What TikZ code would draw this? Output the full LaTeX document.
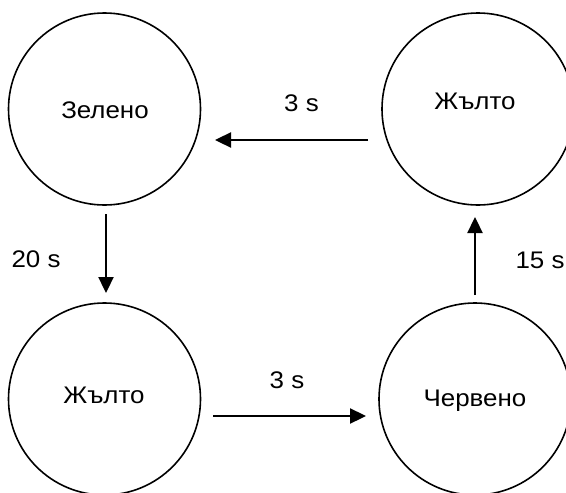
\documentclass[tikz,border=0pt]{standalone}
\usepackage{fontspec}
\setmainfont{Liberation Sans}[FakeStretch=1.08]
\usetikzlibrary{arrows.meta}
\begin{document}
\begin{tikzpicture}[x=1pt,y=-1pt,
  state/.style={circle,draw=black,line width=1.6pt,minimum size=192pt,inner sep=0pt},
  txt/.style={inner sep=0pt,font=\fontsize{24}{28}\selectfont},
  conn/.style={line width=2.3pt,-{Triangle[length=16pt,width=15pt]}}]
\useasboundingbox (0,0) rectangle (566,493);
% states
\node[state] (g) at (104.5,109) {};
\node[state] (y2) at (478,109) {};
\node[state] (y1) at (104.5,399) {};
\node[state] (r) at (475,399) {};
% texts
\node[txt] (tg) at (105,110) {Зелено};
\node[txt] (ty2) at (475,101) {Жълто};
\node[txt] (ty1) at (104,395) {Жълто};
\node[txt] (tr) at (475,401) {Червено};
% connector end points
\coordinate (a1s) at (368,140);
\coordinate (a1e) at (215,140);
\coordinate (a2s) at (106,214);
\coordinate (a2e) at (106,293);
\coordinate (a3s) at (213,416);
\coordinate (a3e) at (366,416);
\coordinate (a4s) at (475,295);
\coordinate (a4e) at (475,217);
\draw[conn] (a1s) -- (a1e);
\draw[conn] (a2s) -- (a2e);
\draw[conn] (a3s) -- (a3e);
\draw[conn] (a4s) -- (a4e);
% labels
\node[txt] (l1) at (301.5,103.5) {3 s};
\node[txt] (l2) at (36,259) {20 s};
\node[txt] (l3) at (287,380) {3 s};
\node[txt] (l4) at (540,260) {15 s};
\end{tikzpicture}
\end{document}
